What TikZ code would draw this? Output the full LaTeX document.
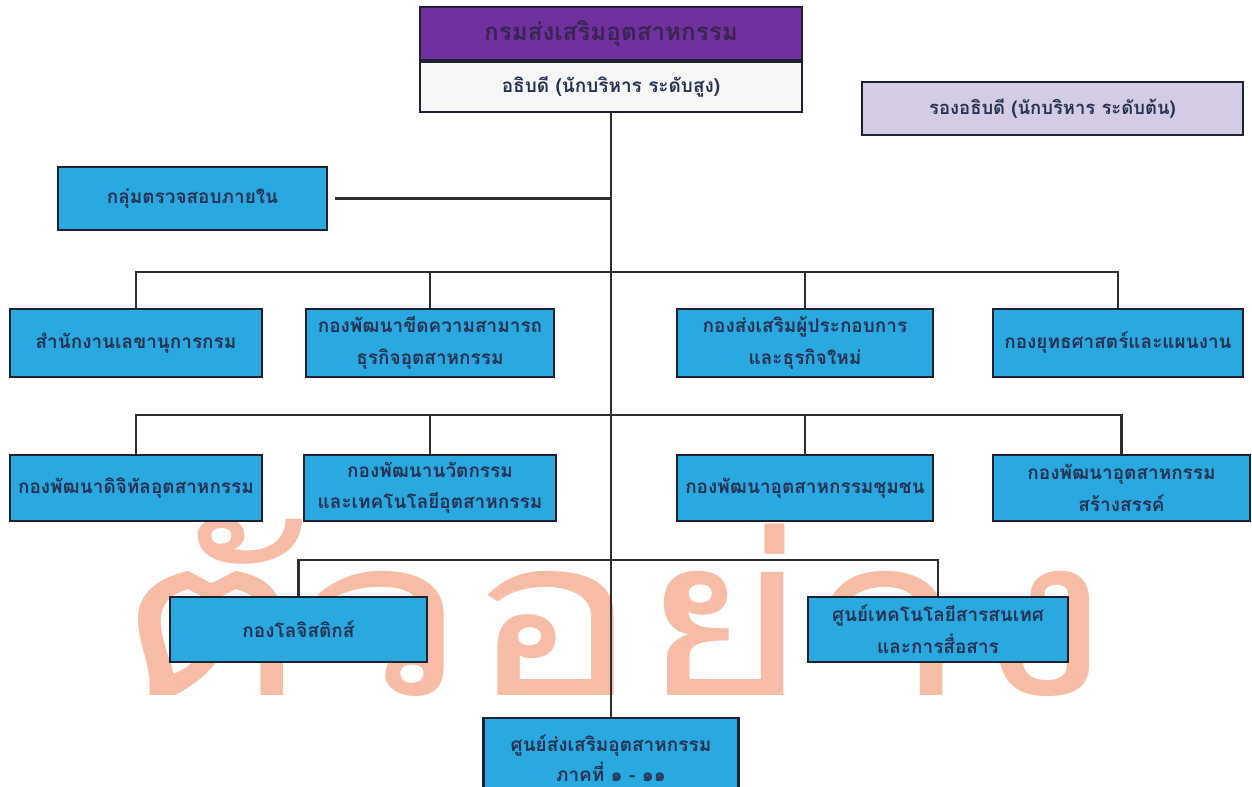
\documentclass[tikz,border=0pt]{standalone}
\usepackage{fontspec}
\newfontfamily\thaifont[Script=Thai]{Loma}
\newfontfamily\markfont[Script=Thai, FakeStretch=1.3]{Loma}
\usetikzlibrary{positioning}
\definecolor{boxblue}{RGB}{42,168,224}
\definecolor{boxedge}{RGB}{30,34,48}
\definecolor{textnavy}{RGB}{38,50,82}
\definecolor{dgpurple}{RGB}{112,48,160}
\definecolor{dgtext}{RGB}{58,36,80}
\definecolor{deplilac}{RGB}{212,204,228}
\definecolor{linegray}{RGB}{45,45,50}
\definecolor{wmark}{RGB}{246,188,165}

\begin{document}
\begin{tikzpicture}[x=0.02cm,y=-0.02cm,
			unit/.style={draw=boxedge, line width=1.6pt, fill=boxblue, text=textnavy, align=center, inner sep=0pt,
				font=\thaifont\bfseries\fontsize{10.8}{18}\selectfont},
			head/.style={draw=boxedge, line width=1.2pt, align=center, inner sep=0pt, minimum width=7.64cm},
			link/.style={draw=linegray, line width=1.6pt}]
		\useasboundingbox[fill=white] (0,0) rectangle (1252,787);
		% watermark, behind everything
		\node [anchor=base, text=wmark, inner sep=0pt,
			font=\markfont\fontsize{126}{126}\selectfont] (wm) at (614,695) {ตัวอย่าง};
		% head of department
		\path 	(611,33.5) 	node 	(dg) [head, fill=dgpurple, text=dgtext, minimum height=1.06cm,
					font=\thaifont\bfseries\fontsize{13.8}{17}\selectfont] {กรมส่งเสริมอุตสาหกรรม};
		\node (dgsub) [head, fill=white!97!black, text=textnavy, minimum height=1.0cm,
					font=\thaifont\bfseries\fontsize{10.8}{16}\selectfont, below=0pt of dg] {อธิบดี (นักบริหาร ระดับสูง)};
		\path 	(1052.5,108.5) node (dep) [head, fill=deplilac, text=textnavy, minimum width=7.62cm, minimum height=1.06cm,
					font=\thaifont\bfseries\fontsize{10.5}{16}\selectfont] {รองอธิบดี (นักบริหาร ระดับต้น)};
		% units
		\path 	(192.5,198.5) node (audit) [unit, minimum width=5.38cm, minimum height=1.26cm] {กลุ่มตรวจสอบภายใน}
		        (136,343) 	node (b1) [unit, minimum width=5.04cm, minimum height=1.36cm] {สำนักงานเลขานุการกรม}
		        (430,343) 	node (b2) [unit, minimum width=4.96cm, minimum height=1.36cm] {กองพัฒนาขีดความสามารถ\\ธุรกิจอุตสาหกรรม}
		        (805,343) 	node (b3) [unit, minimum width=5.12cm, minimum height=1.36cm] {กองส่งเสริมผู้ประกอบการ\\และธุรกิจใหม่}
		        (1118,343) 	node (b4) [unit, minimum width=5.0cm, minimum height=1.36cm] {กองยุทธศาสตร์และแผนงาน}
		        (136,488) 	node (c1) [unit, minimum width=5.04cm, minimum height=1.32cm] {กองพัฒนาดิจิทัลอุตสาหกรรม}
		        (430,488) 	node (c2) [unit, minimum width=5.04cm, minimum height=1.32cm] {กองพัฒนานวัตกรรม\\และเทคโนโลยีอุตสาหกรรม}
		        (805,488) 	node (c3) [unit, minimum width=5.12cm, minimum height=1.32cm] {กองพัฒนาอุตสาหกรรมชุมชน}
		        (1121.5,488) node (c4) [unit, minimum width=5.14cm, minimum height=1.32cm] {กองพัฒนาอุตสาหกรรม\\สร้างสรรค์}
		        (298.5,629.5) node (d1) [unit, minimum width=5.14cm, minimum height=1.3cm] {กองโลจิสติกส์}
		        (938,629.5) 	node (d2) [unit, minimum width=5.2cm, minimum height=1.3cm] {ศูนย์เทคโนโลยีสารสนเทศ\\และการสื่อสาร}
		        (611,758) 	node (e1) [unit, minimum width=5.1cm, minimum height=1.6cm,
		        			font=\thaifont\bfseries\fontsize{10.8}{17}\selectfont] {ศูนย์ส่งเสริมอุตสาหกรรม\\ภาคที่ ๑ - ๑๑};
		% bus rows
		\coordinate (r1) at (611,272);
		\coordinate (r2) at (611,415);
		\coordinate (r3) at (611,560);
		\draw [link] (dgsub.south) -- (e1.north);
		\draw [link, shorten <=4pt] (audit.east) -- (audit.east -| dgsub.south);
		\draw [link] (b1.north) -- (b1.north |- r1) -- (b4.north |- r1) -- (b4.north);
		\draw [link] (b2.north) -- (b2.north |- r1);
		\draw [link] (b3.north) -- (b3.north |- r1);
		\draw [link] (c1.north) -- (c1.north |- r2) -- (c4.north |- r2) -- (c4.north);
		\draw [link] (c2.north) -- (c2.north |- r2);
		\draw [link] (c3.north) -- (c3.north |- r2);
		\draw [link] (d1.north) -- (d1.north |- r3) -- (d2.north |- r3) -- (d2.north);
	\end{tikzpicture}
\end{document}
